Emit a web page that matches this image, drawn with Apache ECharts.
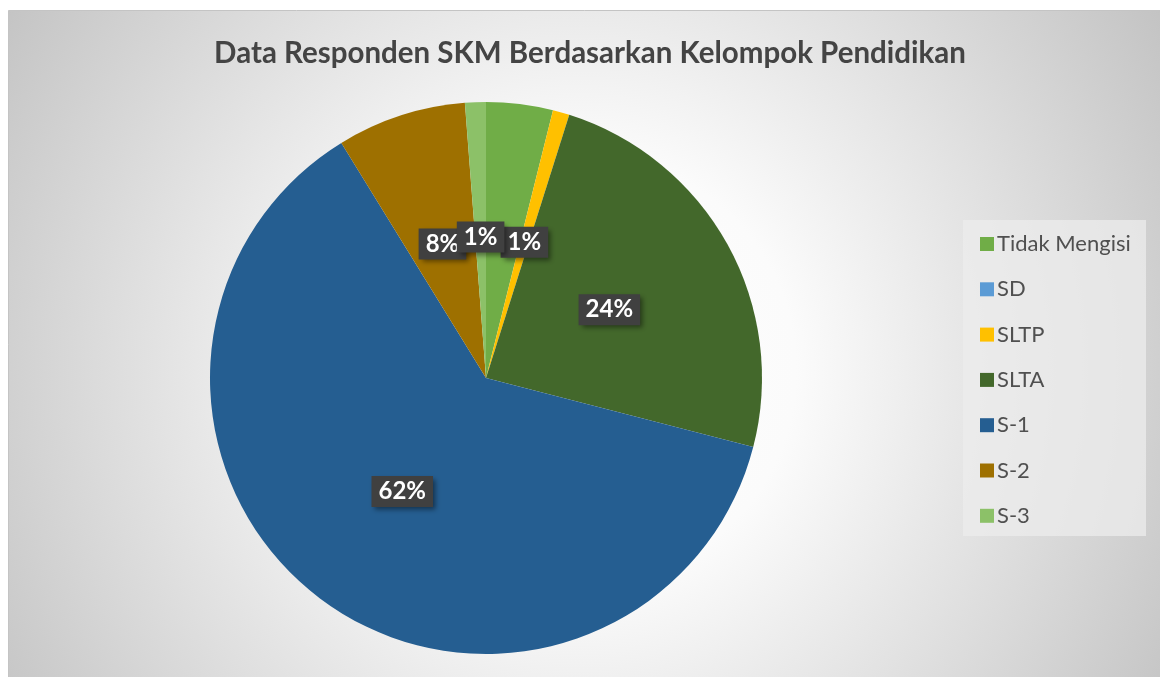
<!DOCTYPE html>
<html>
<head>
<meta charset="utf-8">
<script src="https://cdn.jsdelivr.net/npm/echarts@6/dist/echarts.min.js"></script>
<style>
  html, body { margin: 0; padding: 0; background: #fff; }
  #main { width: 1160px; height: 677px; }
</style>
</head>
<body>
<div id="main"></div>
<script>
// data responden per pendidikan
var kategori = ["Tidak Mengisi", "SD", "SLTP", "SLTA", "S-1", "S-2", "S-3"];
var jumlah = [16, 0, 4, 99, 255, 31, 5];
var warna = ["#70AD47", "#5B9BD5", "#FFC000", "#43682B", "#255E91", "#9E7000", "#8CC168"];
// label yang tampil di gambar (Tidak Mengisi & SD tertutup)
var tampilLabel = [false, false, true, true, true, true, true];

var myChart = echarts.init(document.getElementById("main"));

var dataPie = kategori.map(function (k, i) {
  return {
    name: k,
    value: jumlah[i],
    itemStyle: { color: warna[i] },
    label: { show: tampilLabel[i] }
  };
});

myChart.setOption({
  animation: false,
  title: {
    text: "Data Responden SKM Berdasarkan Kelompok Pendidikan",
    left: 585,
    top: 33,
    textAlign: "center",
    textStyle: {
      fontFamily: "Lato",
      fontWeight: "bold",
      fontSize: 29.5,
      color: "#444444"
    }
  },
  graphic: [
    {
      type: "rect",
      z: -10,
      silent: true,
      shape: { x: 8.5, y: 10.5, width: 1160, height: 680 },
      style: {
        fill: {
          type: "radial",
          global: true,
          x: 580, y: 370, r: 720,
          colorStops: [
            { offset: 0, color: "#ffffff" },
            { offset: 0.3, color: "#fbfbfb" },
            { offset: 1, color: "#bfbfbf" }
          ]
        },
        stroke: "#c4c4c4",
        lineWidth: 1
      }
    },
    {
      type: "rect",
      z: -5,
      silent: true,
      shape: { x: 963, y: 220, width: 183, height: 316 },
      style: { fill: "rgba(236,236,236,0.75)" }
    }
  ],
  legend: {
    orient: "vertical",
    left: 975,
    top: 228,
    itemWidth: 14,
    itemHeight: 14,
    itemGap: 23.3,
    icon: "rect",
    data: kategori,
    textStyle: {
      fontFamily: "Lato",
      fontSize: 22,
      lineHeight: 20,
      color: "#505050",
      padding: [0, 0, 0, -2]
    }
  },
  series: [
    {
      type: "pie",
      center: [486, 378],
      radius: 276,
      startAngle: 90,
      clockwise: true,
      avoidLabelOverlap: false,
      labelLayout: { hideOverlap: false },
      data: dataPie,
      itemStyle: { borderWidth: 0 },
      label: {
        position: "inside",
        formatter: function (p) {
          return Math.round(p.percent) + "%";
        },
        fontFamily: "Lato",
        fontWeight: "bold",
        fontSize: 24,
        color: "#ffffff",
        backgroundColor: "#404040",
        padding: [4, 7, 3, 7],
        shadowColor: "rgba(0,0,0,0.45)",
        shadowBlur: 5,
        shadowOffsetX: 3,
        shadowOffsetY: 3
      },
      labelLine: { show: false },
      emphasis: { disabled: true }
    }
  ]
});

window.onresize = function () {
  myChart.resize();
};
</script>
</body>
</html>
